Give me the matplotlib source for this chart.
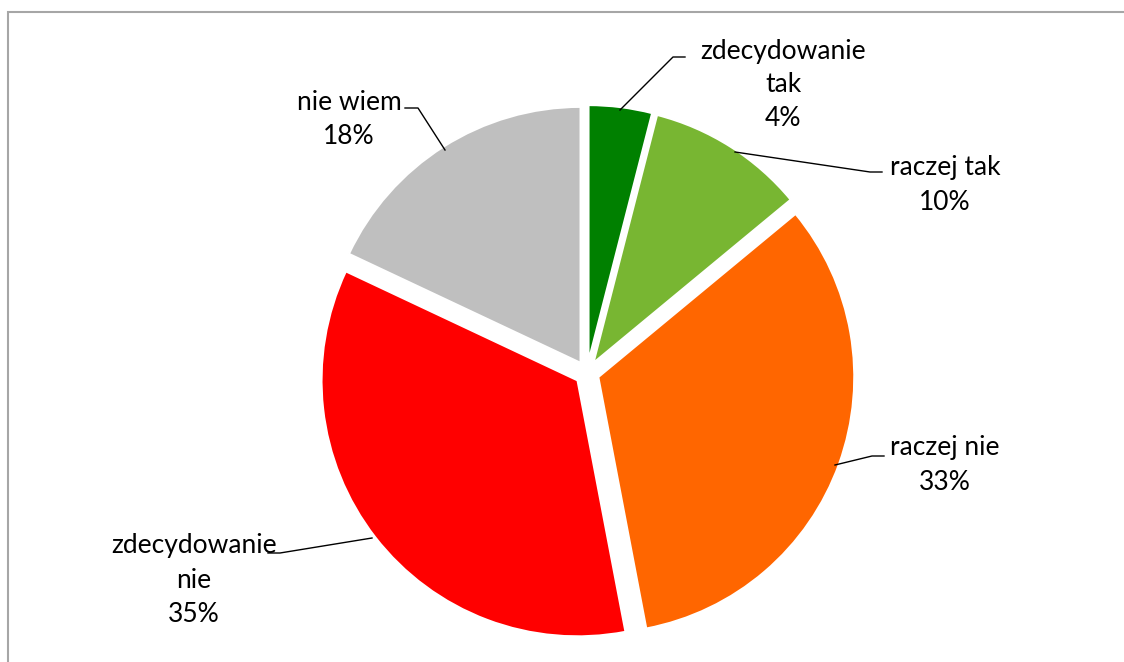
import matplotlib
matplotlib.use("Agg")
import matplotlib.pyplot as plt
from matplotlib.patches import Rectangle

categories = ["zdecydowanie\ntak", "raczej tak", "raczej nie", "zdecydowanie\nnie", "nie wiem"]
values = [4, 10, 33, 35, 18]
colors = ["#008000", "#78B632", "#FF6600", "#FF0000", "#BFBFBF"]

W, H = 1124, 662
fig = plt.figure(figsize=(W / 100, H / 100), dpi=100)
ax = fig.add_axes([0, 0, 1, 1])

cx, cy, r = 587, H - 373, 256
wedges, _ = ax.pie(values, colors=colors, startangle=90, counterclock=False,
                   center=(cx, cy), radius=r, explode=[12] * len(values),
                   wedgeprops=dict(edgecolor="white", linewidth=1.5), frame=True)
ax.set_xlim(0, W)
ax.set_ylim(0, H)
ax.set_aspect("equal")
ax.axis("off")

def Y(y):
    return H - y

font = dict(family="Lato", fontsize=19, color="black", ha="center", va="center",
            linespacing=1.45)

# label text positions (image pixel coords) and leader lines
labels = [
    ((783, 85), [(620, 110), (673, 57), (685, 57)]),
    ((945, 185), [(735, 152), (870, 172), (882, 172)]),
    ((945, 465), [(835, 465), (872, 456), (884, 456)]),
    ((194, 580), [(372, 538), (280, 553), (268, 553)]),
    ((349, 120), [(445, 150), (418, 108), (405, 108)]),
]
for cat, val, ((tx, ty), pts) in zip(categories, values, labels):
    ax.text(tx, Y(ty), f"{cat}\n{val}%", **font)
    ax.plot([p[0] for p in pts], [Y(p[1]) for p in pts], color="black", lw=1.0)

fig.add_artist(Rectangle((8 / W, -0.1), 1.2, (H - 12) / H + 0.1, transform=fig.transFigure,
                         fill=False, edgecolor="#A6A6A6", linewidth=1.5))

fig.savefig("out.png", dpi=100)
